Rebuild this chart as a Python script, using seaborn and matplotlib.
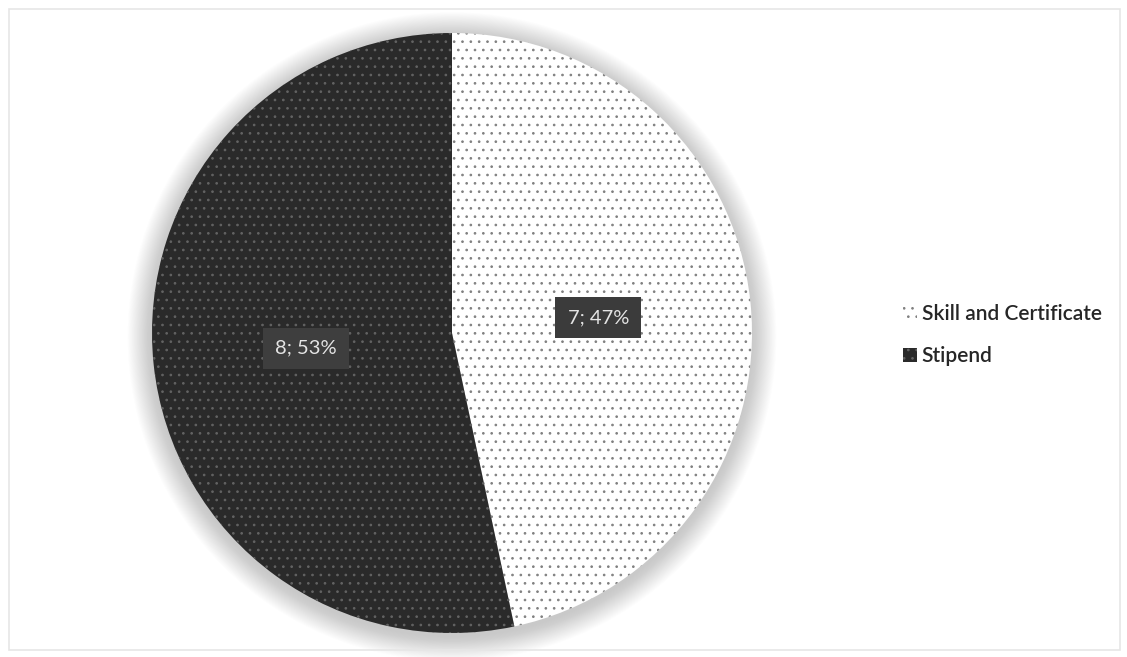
import matplotlib
matplotlib.use("Agg")
import matplotlib.pyplot as plt
from matplotlib.patches import Circle, Rectangle
import seaborn as sns

# Data
categories = ["Skill and Certificate", "Stipend"]
counts = [7, 8]

sns.set_theme(style="white")
plt.rcParams["font.family"] = ["Lato", "DejaVu Sans"]
plt.rcParams["hatch.linewidth"] = 0.7

W, H = 1127, 657
fig = plt.figure(figsize=(W / 100, H / 100), dpi=100)
fig.patch.set_facecolor("white")

# faint outer frame
fig.patches.append(Rectangle((9 / W, 7 / H), (W - 16) / W, (H - 16) / H,
                             transform=fig.transFigure, fill=False,
                             edgecolor="#e6e6e6", linewidth=1.2))

# pie axes: radius 300 px, centred at (452, 333) px, with room for the glow
R = 300
pad = 1.12
size = 2 * R * pad
cx, cy = 452, H - 333
ax = fig.add_axes([(cx - size / 2) / W, (cy - size / 2) / H, size / W, size / H])
ax.axis("off")

# soft glow behind the pie
for k in range(30):
    ax.add_patch(Circle((0, -0.012), 1.0 + 0.0028 * k, facecolor="#7a7a7a",
                        edgecolor="none", alpha=0.010, zorder=0))

total = sum(counts)
wedges, _, autotexts = ax.pie(
    counts,
    startangle=90,
    counterclock=False,
    colors=["white", "#2a2a2a"],
    autopct=lambda p: f"{round(p * total / 100)}; {p:.0f}%",
    pctdistance=0.49,
    wedgeprops=dict(linewidth=0),
    radius=1.0,
)
ax.set_xlim(-pad, pad)
ax.set_ylim(-pad, pad)
ax.set_aspect("equal")
for w in wedges:
    w.set_zorder(2)

# dotted fills
wedges[0].set_hatch("..")
wedges[0].set_edgecolor("#808080")
wedges[0].set_linewidth(0)
wedges[1].set_hatch("..")
wedges[1].set_edgecolor("#636363")
wedges[1].set_linewidth(0)

box_colors = ["#3b3b3b", "#3e3e3e"]
for t, bc in zip(autotexts, box_colors):
    t.set_color("#e4e4e4")
    t.set_fontsize(14.5)
    t.set_zorder(5)
    t.set_bbox(dict(boxstyle="square,pad=0.6", facecolor=bc, edgecolor="none"))

# legend
leg = fig.legend(wedges, categories, loc="center left",
                 bbox_to_anchor=(903 / W, 1 - 335 / H), frameon=False,
                 fontsize=15, handlelength=0.65, handleheight=0.65,
                 handletextpad=0.25, labelspacing=1.1, borderaxespad=0,
                 borderpad=0)
for txt in leg.get_texts():
    txt.set_color("#262626")
    txt.set_fontweight("semibold")
for h in leg.legend_handles:
    h.set_linewidth(0)

fig.savefig("out.png", dpi=100, facecolor="white")
